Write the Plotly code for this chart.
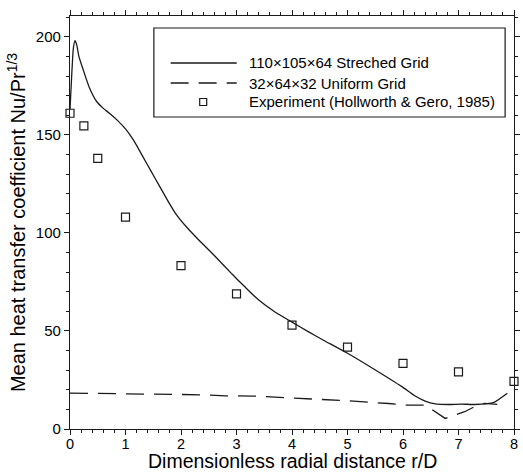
import plotly.graph_objects as go

# Solid line: 110x105x64 stretched grid
fine_x = [0.0, 0.03, 0.06, 0.09, 0.12, 0.16, 0.24, 0.35, 0.48, 0.6, 0.71, 0.85, 1.0, 1.15,
          1.31, 1.45, 1.61, 1.75, 1.9, 2.1, 2.32, 2.6, 2.92, 3.15, 3.39, 3.7, 4.0, 4.3,
          4.56, 5.0, 5.45, 5.98, 6.22, 6.4, 6.58, 6.82, 7.05, 7.29, 7.64, 7.88]
fine_y = [163, 180, 194, 198, 196, 190, 183, 174, 167, 163.5, 161, 157.5, 153, 147,
          139, 132, 124, 117, 110, 103, 96.4, 88.5, 79, 72.5, 66, 59.5, 54.5, 49.5,
          45.4, 38.6, 31, 21.6, 16.8, 14.2, 12.8, 12.5, 12.7, 12.5, 13.6, 18.2]

# Dashed line: 32x64x32 uniform grid
coarse_x = [0.0, 0.5, 1.0, 1.5, 2.0, 2.4, 2.8, 3.3, 4.0, 4.56, 5.0, 5.74, 6.04, 6.4,
            6.76, 6.93, 7.11, 7.29, 7.47, 7.7]
coarse_y = [18.3, 18.2, 18.0, 17.8, 17.6, 17.4, 16.9, 16.8, 15.8, 15.1, 14.4, 13.0, 12.2, 12.2,
            5.4, 7.1, 8.8, 11.4, 13.1, 12.6]

# Experiment (Hollworth & Gero, 1985)
exp_x = [0, 0.25, 0.5, 1, 2, 3, 4, 5, 6, 7, 8]
exp_y = [161, 154.6, 138, 108, 83.3, 68.9, 53, 41.7, 33.5, 29.1, 24.3]

x_ticks = [0, 1, 2, 3, 4, 5, 6, 7, 8]
y_ticks = [0, 50, 100, 150, 200]

series_names = ["110×105×64 Streched Grid", "32×64×32 Uniform Grid",
                "Experiment (Hollworth & Gero, 1985)"]
x_title = "Dimensionless radial distance r/D"
y_title = "Mean heat transfer coefficient Nu/Pr<sup>1/3</sup>"

FONT = "Liberation Sans, Arial, sans-serif"
INK = "#1a1a1a"
DASH = "18px,10px"

fig = go.Figure()
fig.add_trace(go.Scatter(x=fine_x, y=fine_y, mode="lines",
                         line=dict(color=INK, width=1.3, shape="spline", smoothing=0.5),
                         name=series_names[0], showlegend=False))
fig.add_trace(go.Scatter(x=coarse_x, y=coarse_y, mode="lines", line=dict(color=INK, width=1.3, dash=DASH),
                         name=series_names[1], showlegend=False))
fig.add_trace(go.Scatter(x=exp_x, y=exp_y, mode="markers",
                         marker=dict(symbol="square-open", size=8, color=INK, line=dict(width=1.2)),
                         name=series_names[2], cliponaxis=False, showlegend=False))

axis_common = dict(showline=True, linecolor=INK, linewidth=1.2, mirror="ticks", ticks="outside",
                   tickcolor=INK, tickwidth=1, showgrid=False, zeroline=False)

fig.update_xaxes(range=[0, 8], tickvals=x_ticks, ticklen=5, ticklabelstandoff=-4,
                 tickfont=dict(family=FONT, size=14.5, color="black"),
                 minor=dict(dtick=0.2, ticks="outside", ticklen=3, tickcolor=INK, showgrid=False),
                 **axis_common)
fig.update_yaxes(range=[0, 210.6], tickvals=y_ticks, ticklen=5,
                 tickfont=dict(family=FONT, size=15, color="black"),
                 minor=dict(dtick=10, ticks="outside", ticklen=3, tickcolor=INK, showgrid=False),
                 title=dict(text=y_title, font=dict(family=FONT, size=20, color="black"), standoff=4),
                 **axis_common)

def px_x(p):
    return (p - 70) / 450

def px_y(p):
    return (429 - p) / 413

# X-axis title placed just above the bottom edge
fig.add_annotation(xref="paper", yref="paper", x=0.5, y=px_y(473), text=x_title,
                   showarrow=False, xanchor="center", yanchor="bottom", borderpad=0,
                   font=dict(family=FONT, size=19.5, color="black"))

# Custom legend box
fig.add_shape(type="rect", xref="paper", yref="paper",
              x0=px_x(155), x1=px_x(511), y0=px_y(117), y1=px_y(28),
              line=dict(color=INK, width=1.2), fillcolor="white", layer="below")

entry_y = [px_y(63), px_y(83), px_y(102)]
fig.add_shape(type="line", xref="paper", yref="paper", x0=px_x(172), x1=px_x(239),
              y0=entry_y[0], y1=entry_y[0], line=dict(color=INK, width=1.3))
fig.add_shape(type="line", xref="paper", yref="paper", x0=px_x(172), x1=px_x(239),
              y0=entry_y[1], y1=entry_y[1], line=dict(color=INK, width=1.3, dash=DASH))
fig.add_shape(type="rect", xref="paper", yref="paper", xsizemode="pixel", ysizemode="pixel",
              xanchor=px_x(205), yanchor=entry_y[2], x0=-3.5, x1=3.5, y0=-3.5, y1=3.5,
              line=dict(color=INK, width=1.2), fillcolor="rgba(0,0,0,0)")
for name, yy in zip(series_names, entry_y):
    fig.add_annotation(xref="paper", yref="paper", x=px_x(249), y=yy, text=name,
                       showarrow=False, xanchor="left", yanchor="middle",
                       font=dict(family=FONT, size=15, color="black"))

fig.update_layout(
    width=523, height=472,
    margin=dict(l=70, r=3, t=16, b=43),
    paper_bgcolor="white", plot_bgcolor="white",
    font=dict(family=FONT, color="black"),
    showlegend=False,
)

fig.write_html("out.html")
